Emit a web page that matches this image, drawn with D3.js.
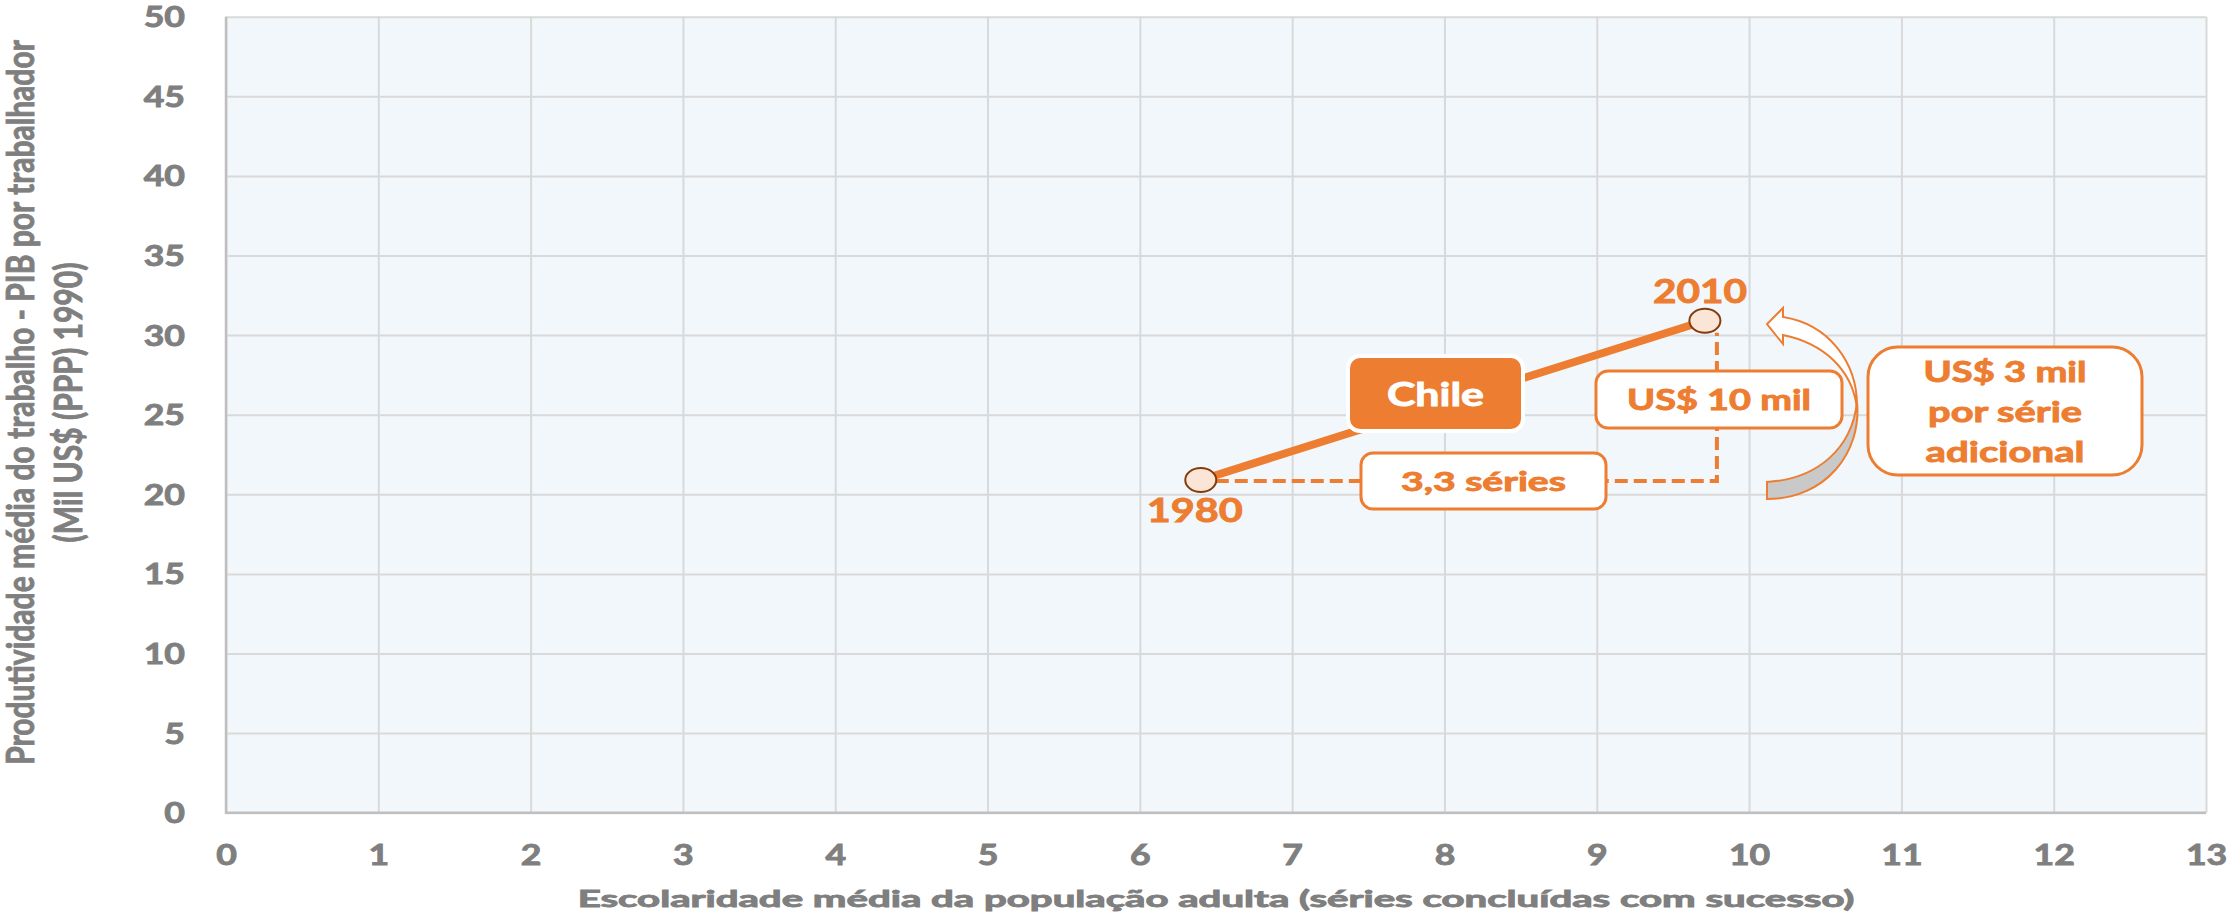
<!DOCTYPE html>
<html>
<head>
<meta charset="utf-8">
<script src="https://cdn.jsdelivr.net/npm/d3@7"></script>
<style>
  body { margin: 0; background: #fff; }
  svg text { font-family: Lato, 'Open Sans', sans-serif; font-weight: 700; }
</style>
</head>
<body>
<svg id="chart" width="2229" height="918"></svg>
<script>
// data
const years = ['1980', '2010'];
const escolaridade = [6.4, 9.71];
const produtividade = [20.9, 30.9];
const pais = 'Chile';
const xTicks = d3.range(0, 14);
const yTicks = d3.range(0, 55, 5);
const deltaSeries = '3,3 séries';
const deltaRenda = 'US$ 10 mil';
const taxaLines = ['US$ 3 mil', 'por série', 'adicional'];
const xTitle = 'Escolaridade média da população adulta (séries concluídas com sucesso)';
const yTitle = ['Produtividade média do trabalho - PIB por trabalhador', '(Mil US$ (PPP) 1990)'];

const ORANGE = '#ED7D31';
const GREY = '#7F7F7F';
const STRETCH = 1.27;

const svg = d3.select('#chart');
const L = 226, R = 2206, T = 16.7, B = 812.7;

const x = d3.scaleLinear().domain([0, 13]).range([L, R]);
const y = d3.scaleLinear().domain([0, 50]).range([B, T]);

// plot background
svg.append('rect')
  .attr('x', L).attr('y', T)
  .attr('width', R - L).attr('height', B - T)
  .style('fill', '#F2F7FB');

// grid lines
svg.append('g')
  .attr('transform', `translate(0,${B})`)
  .call(d3.axisBottom(x).tickValues(xTicks).tickSize(-(B - T)).tickFormat(''))
  .call(g => g.select('.domain').remove())
  .call(g => g.selectAll('line').style('stroke', '#D9D9D9').style('stroke-width', 2));

svg.append('g')
  .attr('transform', `translate(${L},0)`)
  .call(d3.axisLeft(y).tickValues(yTicks).tickSize(-(R - L)).tickFormat(''))
  .call(g => g.select('.domain').remove())
  .call(g => g.selectAll('line').style('stroke', '#D9D9D9').style('stroke-width', 2));

// left + bottom axis lines
svg.append('path')
  .attr('d', `M${L},${T}V${B}H${R}`)
  .style('fill', 'none').style('stroke', '#BFBFBF').style('stroke-width', 2.5);

// tick labels
svg.append('g')
  .attr('transform', `translate(${L},0)`)
  .call(d3.axisLeft(y).tickValues(yTicks).tickSize(0).tickPadding(32.3))
  .call(g => g.select('.domain').remove())
  .call(g => g.selectAll('text')
    .attr('dy', '0.357em')
    .attr('transform', `scale(${STRETCH},1)`)
    .style('font-size', '28px').style('fill', GREY)
    .style('stroke', GREY).style('stroke-width', 0.9)
    .style('font-family', 'Lato, sans-serif').style('font-weight', 700));

svg.append('g')
  .attr('transform', `translate(0,${B})`)
  .call(d3.axisBottom(x).tickValues(xTicks).tickSize(0).tickPadding(32.4))
  .call(g => g.select('.domain').remove())
  .call(g => g.selectAll('text')
    .attr('transform', `scale(${STRETCH},1)`)
    .style('font-size', '28px').style('fill', GREY)
    .style('stroke', GREY).style('stroke-width', 0.9)
    .style('font-family', 'Lato, sans-serif').style('font-weight', 700));

// helper: text centred at (cx, by), stretched to a target width
function label(parent, str, cx, by, size, color, width) {
  const t = parent.append('text')
    .attr('text-anchor', 'middle')
    .style('font-size', size + 'px')
    .style('fill', color)
    .style('stroke', color).style('stroke-width', 0.9)
    .text(str);
  const s = width ? width / t.node().getComputedTextLength() : STRETCH;
  t.attr('transform', `translate(${cx},${by}) scale(${s},1)`);
  return t;
}

// axis titles
label(svg, xTitle, (L + R) / 2, 907, 23, GREY, 1277);

const yMid = 402.5;
const yt1 = svg.append('text')
  .attr('text-anchor', 'middle')
  .style('font-size', '29px').style('fill', GREY)
  .style('stroke', GREY).style('stroke-width', 0.7)
  .text(yTitle[0]);
const along = 725 / yt1.node().getComputedTextLength();
yt1.attr('transform', `translate(34,${yMid}) rotate(-90) scale(${along},1.3)`);
svg.append('text')
  .attr('text-anchor', 'middle')
  .style('font-size', '29px').style('fill', GREY)
  .style('stroke', GREY).style('stroke-width', 0.7)
  .attr('transform', `translate(82,${yMid}) rotate(-90) scale(${along},1.3)`)
  .text(yTitle[1]);

// points
const pts = years.map((yr, i) => ({ year: yr, ex: escolaridade[i], py: produtividade[i] }));
const p0 = pts[0], p1 = pts[1];
const vx = x(p1.ex) + 12;

// dashed guides
svg.append('path')
  .attr('d', `M${x(p0.ex) + 15},${y(p0.py) + 1}H${vx}V${y(p1.py) + 12}`)
  .style('fill', 'none')
  .style('stroke', ORANGE).style('stroke-width', 4)
  .style('stroke-dasharray', '13,6');

// trajectory
svg.append('path')
  .datum(pts)
  .attr('d', d3.line().x(d => x(d.ex)).y(d => y(d.py)))
  .style('fill', 'none').style('stroke', ORANGE).style('stroke-width', 8);

svg.selectAll('ellipse.pt')
  .data(pts)
  .join('ellipse')
  .attr('class', 'pt')
  .attr('cx', d => x(d.ex)).attr('cy', d => y(d.py))
  .attr('rx', 15.5).attr('ry', 12)
  .style('fill', '#FBE5D6').style('stroke', '#843C0C').style('stroke-width', 2);

// year labels
label(svg, p0.year, x(p0.ex) - 6, y(p0.py) + 42, 33, ORANGE, 96);
label(svg, p1.year, x(p1.ex) - 5, y(p1.py) - 18, 32, ORANGE, 94);

// country box
svg.append('rect')
  .attr('x', 1348).attr('y', 356).attr('width', 175).attr('height', 75)
  .attr('rx', 12)
  .style('fill', ORANGE).style('stroke', '#fff').style('stroke-width', 4);
label(svg, pais, 1435.5, 406, 32, '#fff', 97);

// delta boxes
function box(bx, by, w, h, r) {
  svg.append('rect')
    .attr('x', bx).attr('y', by).attr('width', w).attr('height', h)
    .attr('rx', r)
    .style('fill', '#fff').style('stroke', ORANGE).style('stroke-width', 3);
}
box(1361, 453, 245, 56, 12);
label(svg, deltaSeries, 1483.5, 491, 27, ORANGE, 165);

box(1596, 371, 246, 57, 12);
label(svg, deltaRenda, 1719, 410, 28, ORANGE, 184);

// curved arrow
svg.append('path')
  .attr('d', 'M1767,482 C1818,479 1852,448 1857,402 C1862,452 1826,499 1767,499 Z')
  .style('fill', '#C9C9C9').style('stroke', ORANGE).style('stroke-width', 2);
svg.append('path')
  .attr('d', 'M1857,408 C1858,362 1828,324 1783,317 L1783,308 L1767,324 L1783,344 L1783,335 C1822,343 1852,368 1857,408 Z')
  .style('fill', '#fff').style('stroke', ORANGE).style('stroke-width', 2);

// rate box
box(1868, 347, 274, 128, 30);
const taxaWidths = [163, 154, 159];
taxaLines.forEach((ln, i) => {
  label(svg, ln, 2005, 382 + i * 40, 28, ORANGE, taxaWidths[i]);
});
</script>
</body>
</html>
